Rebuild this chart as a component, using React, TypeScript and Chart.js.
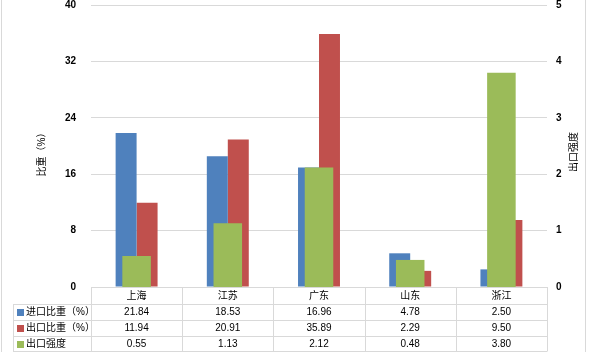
import React, { useEffect, useRef } from "react";
import { Chart, registerables } from "chart.js";

Chart.register(...registerables);

const categories = ["上海", "江苏", "广东", "山东", "浙江"];
const importShare = [21.84, 18.53, 16.96, 4.78, 2.5];
const exportShare = [11.94, 20.91, 35.89, 2.29, 9.5];
const exportIntensity = [0.55, 1.13, 2.12, 0.48, 3.8];
const seriesNames = ["进口比重（%）", "出口比重（%）", "出口强度"];
const seriesColors = ["#4F81BD", "#C0504D", "#9BBB59"];
const leftAxisTitle = "比重（%）";
const rightAxisTitle = "出口强度";

const FONT = '"Liberation Sans", "Noto Sans CJK SC", sans-serif';
const GRID = "#d9d9d9";

const tablePlugin = {
  id: "dataTable",
  afterDraw(chart: any) {
    const { ctx, chartArea } = chart;
    const left = chartArea.left;
    const right = chartArea.right;
    const bottom = chartArea.bottom;
    const n = categories.length;
    const w = (right - left) / n;
    const headerH = 17;
    const rowH = 16;
    const legendLeft = 13;
    const px = (v: number) => Math.round(v) + 0.5;
    const rows = [importShare, exportShare, exportIntensity];
    const tableBottom = bottom + headerH + rowH * rows.length - 1;

    ctx.save();
    ctx.strokeStyle = GRID;
    ctx.lineWidth = 1;
    ctx.beginPath();
    ctx.moveTo(left, px(bottom));
    ctx.lineTo(right, px(bottom));
    for (let r = 0; r <= rows.length; r++) {
      const y = px(Math.min(bottom + headerH + rowH * r, tableBottom));
      ctx.moveTo(legendLeft, y);
      ctx.lineTo(right, y);
    }
    for (let i = 0; i <= n; i++) {
      const x = px(left + w * i);
      ctx.moveTo(x, bottom);
      ctx.lineTo(x, px(tableBottom));
    }
    ctx.moveTo(px(legendLeft), bottom + headerH);
    ctx.lineTo(px(legendLeft), px(tableBottom));
    ctx.moveTo(1.5, 0);
    ctx.lineTo(1.5, chart.height);
    ctx.moveTo(chart.width - 3.5, 0);
    ctx.lineTo(chart.width - 3.5, chart.height);
    ctx.stroke();

    ctx.fillStyle = "#000";
    ctx.textBaseline = "middle";
    rows.forEach((vals, r) => {
      const yc = bottom + headerH + rowH * r + rowH / 2 + 0.5;
      ctx.textAlign = "center";
      ctx.font = `10px ${FONT}`;
      vals.forEach((v, i) => {
        ctx.fillText(v.toFixed(2), left + w * i + w / 2, yc);
      });
      ctx.fillStyle = seriesColors[r];
      ctx.fillRect(legendLeft + 4, Math.round(yc - 3.5), 7, 7);
      ctx.fillStyle = "#000";
      ctx.textAlign = "left";
      ctx.font = `10px ${FONT}`;
      ctx.fillText(seriesNames[r], legendLeft + 13, yc);
    });

    const yMid = (chartArea.top + chartArea.bottom) / 2 + 6;
    ctx.font = `10px ${FONT}`;
    ctx.textAlign = "center";
    ctx.textBaseline = "middle";
    ctx.save();
    ctx.translate(42, yMid);
    ctx.rotate(-Math.PI / 2);
    ctx.fillText(leftAxisTitle, 0, 0);
    ctx.restore();
    ctx.save();
    ctx.translate(right + 27, yMid);
    ctx.rotate(-Math.PI / 2);
    ctx.fillText(rightAxisTitle, 0, 0);
    ctx.restore();
    ctx.restore();
  },
};

export default function App() {
  const ref = useRef<HTMLCanvasElement | null>(null);

  useEffect(() => {
    document.body.style.margin = "0";
    if (!ref.current) return;
    const chart = new Chart(ref.current, {
      type: "bar",
      data: {
        labels: categories,
        datasets: [
          {
            label: seriesNames[0],
            data: importShare,
            backgroundColor: seriesColors[0],
            yAxisID: "y",
            order: 1,
            categoryPercentage: 0.46,
            barPercentage: 1,
          },
          {
            label: seriesNames[1],
            data: exportShare,
            backgroundColor: seriesColors[1],
            yAxisID: "y",
            order: 2,
            categoryPercentage: 0.46,
            barPercentage: 1,
          },
          {
            label: seriesNames[2],
            data: exportIntensity,
            backgroundColor: seriesColors[2],
            yAxisID: "y2",
            order: 0,
            grouped: false,
            categoryPercentage: 0.313,
            barPercentage: 1,
          },
        ],
      },
      options: {
        animation: false,
        responsive: true,
        maintainAspectRatio: false,
        layout: { padding: { top: 5, bottom: 48, left: 0, right: 0 } },
        plugins: {
          legend: { display: false },
          tooltip: { enabled: false },
        },
        scales: {
          x: {
            grid: { display: false, drawTicks: false },
            border: { display: false },
            ticks: {
              color: "#000",
              font: { family: FONT, size: 10 },
              padding: 3,
              maxRotation: 0,
            },
            afterFit: (s: any) => {
              s.height = 17;
              s.paddingLeft = 0;
              s.paddingRight = 0;
            },
          },
          y: {
            position: "left",
            min: 0,
            max: 40,
            grid: { color: GRID, drawTicks: false },
            border: { display: false },
            ticks: {
              stepSize: 8,
              color: "#000",
              font: { family: FONT, size: 10, weight: "bold" },
              padding: 15,
            },
            afterFit: (s: any) => {
              s.width = 91;
              s.paddingTop = 0;
              s.paddingBottom = 0;
            },
          },
          y2: {
            position: "right",
            min: 0,
            max: 5,
            grid: { display: false, drawTicks: false },
            border: { display: false },
            ticks: {
              stepSize: 1,
              color: "#000",
              font: { family: FONT, size: 10, weight: "bold" },
              padding: 9,
            },
            afterFit: (s: any) => {
              s.width = 42;
              s.paddingTop = 0;
              s.paddingBottom = 0;
            },
          },
        },
      },
      plugins: [tablePlugin],
    });
    return () => chart.destroy();
  }, []);

  return (
    <div style={{ position: "relative", width: 589, height: 352 }}>
      <canvas ref={ref} />
    </div>
  );
}
